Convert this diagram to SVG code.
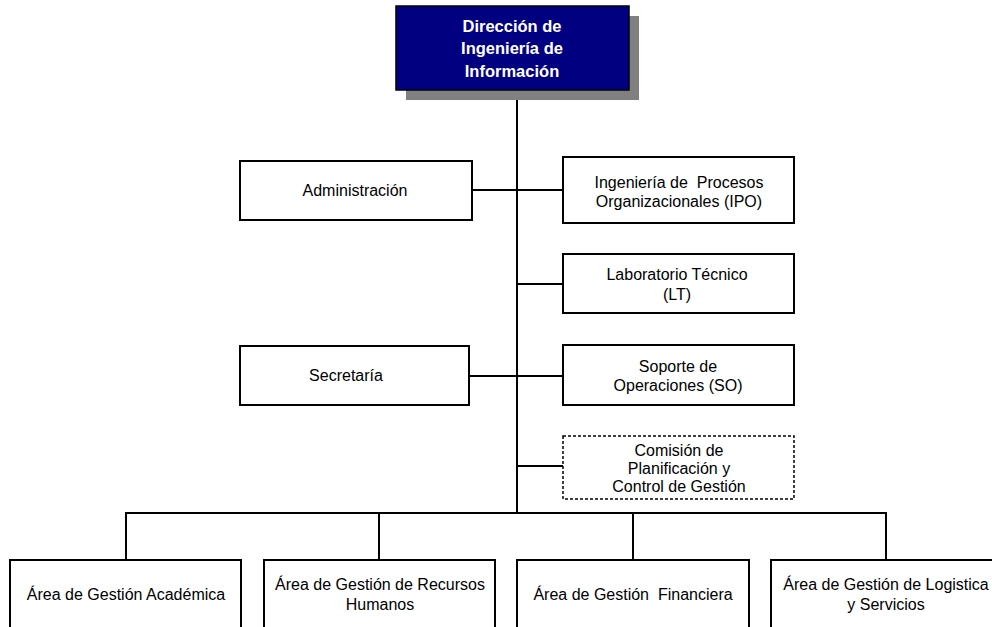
<svg xmlns="http://www.w3.org/2000/svg" width="992" height="627" viewBox="0 0 992 627">
<style>
.box{fill:#fff;stroke:#000;stroke-width:2}
.dash{fill:#fff;stroke:#000;stroke-width:1.5;stroke-dasharray:3 2}
.t{font-family:"Liberation Sans",Arial,sans-serif;font-size:16px;fill:#000;text-anchor:middle}
.tw{font-family:"Liberation Sans",Arial,sans-serif;font-size:16.5px;font-weight:bold;fill:#fff;text-anchor:middle}
.ln{stroke:#000;stroke-width:2;fill:none}
</style>
<rect width="992" height="627" fill="#fff"/>
<g id="connectors">
<line class="ln" x1="517" y1="90" x2="517" y2="514"/>
<line class="ln" x1="472" y1="190" x2="563" y2="190"/>
<line class="ln" x1="517" y1="284" x2="563" y2="284"/>
<line class="ln" x1="469" y1="376" x2="563" y2="376"/>
<line class="ln" x1="517" y1="466" x2="563" y2="466"/>
<line class="ln" x1="125" y1="513" x2="887" y2="513"/>
<line class="ln" x1="126" y1="513" x2="126" y2="560"/>
<line class="ln" x1="379" y1="513" x2="379" y2="560"/>
<line class="ln" x1="633" y1="513" x2="633" y2="560"/>
<line class="ln" x1="886" y1="513" x2="886" y2="560"/>
</g>
<g id="direccion">
<rect x="406" y="16" width="233" height="84" fill="#808080"/>
<rect x="396" y="6" width="233" height="84" fill="#000080" stroke="#000" stroke-width="1.5"/>
<text class="tw" x="512" y="32">Dirección de</text>
<text class="tw" x="512" y="54">Ingeniería de</text>
<text class="tw" x="512" y="77">Información</text>
</g>
<g id="administracion">
<rect class="box" x="240" y="161" width="232" height="59"/>
<text class="t" x="355" y="196">Administración</text>
</g>
<g id="ipo">
<rect class="box" x="563" y="157" width="231" height="66"/>
<text class="t" x="679" y="188">Ingeniería de&#160; Procesos</text>
<text class="t" x="679" y="207">Organizacionales (IPO)</text>
</g>
<g id="lt">
<rect class="box" x="563" y="254" width="231" height="59"/>
<text class="t" x="677" y="280">Laboratorio Técnico</text>
<text class="t" x="677" y="300">(LT)</text>
</g>
<g id="secretaria">
<rect class="box" x="240" y="346" width="229" height="59"/>
<text class="t" x="346" y="381">Secretaría</text>
</g>
<g id="so">
<rect class="box" x="563" y="345" width="231" height="60"/>
<text class="t" x="678" y="372">Soporte de</text>
<text class="t" x="678" y="391">Operaciones (SO)</text>
</g>
<g id="comision">
<rect class="dash" x="563" y="436" width="231" height="63"/>
<text class="t" x="679" y="456">Comisión de</text>
<text class="t" x="679" y="474">Planificación y</text>
<text class="t" x="679" y="492">Control de Gestión</text>
</g>
<g id="academica">
<rect class="box" x="10" y="560" width="231" height="72"/>
<text class="t" x="126" y="600">Área de Gestión Académica</text>
</g>
<g id="rrhh">
<rect class="box" x="264" y="560" width="231" height="72"/>
<text class="t" x="380" y="590">Área de Gestión de Recursos</text>
<text class="t" x="380" y="610">Humanos</text>
</g>
<g id="financiera">
<rect class="box" x="517" y="560" width="232" height="72"/>
<text class="t" x="633" y="600">Área de Gestión&#160; Financiera</text>
</g>
<g id="logistica">
<rect class="box" x="771" y="560" width="230" height="72"/>
<text class="t" x="886" y="590">Área de Gestión de Logistica</text>
<text class="t" x="886" y="610">y Servicios</text>
</g>
</svg>
